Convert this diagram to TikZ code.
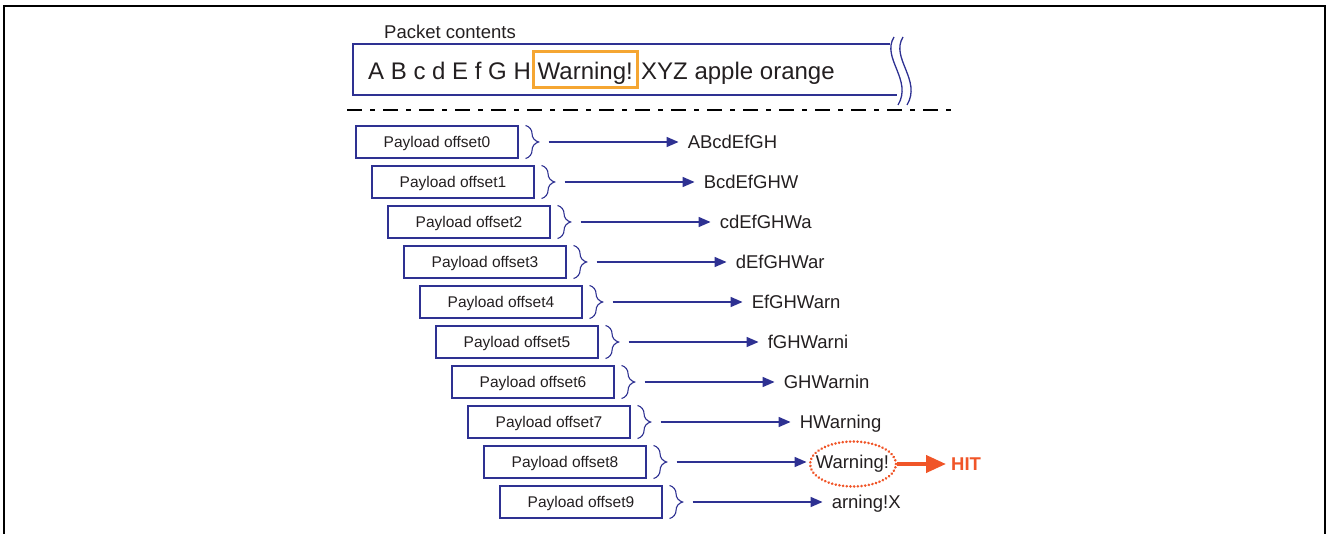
\documentclass[tikz,border=0pt]{standalone}
\usepackage{fontspec}
\setmainfont{Liberation Sans}
\usetikzlibrary{arrows.meta,decorations.pathreplacing,shapes.geometric}
\definecolor{navy}{RGB}{46,49,146}
\definecolor{warnbox}{RGB}{245,166,50}
\definecolor{hitred}{RGB}{240,85,40}
\definecolor{ink}{RGB}{35,31,32}
\tikzset{
  frame/.style={line width=2pt, black},
  pbox/.style={draw=navy, line width=1.1pt, minimum width=162pt, minimum height=32pt, inner sep=0pt,
    font=\fontsize{15.5}{16}\selectfont, text=ink, text height=14.6pt, text depth=3.5pt},
  lbl/.style={inner sep=0pt, anchor=west, font=\fontsize{18.5}{19}\selectfont, text=ink, text height=17.3pt, text depth=4pt},
  bracestyle/.style={draw=navy, line width=1.1pt, decorate, decoration={brace, amplitude=13pt}},
  arr/.style={draw=navy, line width=1.5pt, -{Triangle[length=12pt,width=10pt]}, shorten >=9pt},
  hitarr/.style={draw=hitred, line width=4pt, -{Triangle[length=20pt,width=17pt]}},
  wave/.style={draw=navy, line width=1.3pt},
}
\begin{document}
\begin{tikzpicture}[x=1pt,y=-1pt]
\useasboundingbox (0,0) rectangle (1329,534);
% outer frame
\draw[frame] (4,536) -- (4,6) -- (1325,6) -- (1325,536);
% packet contents
\node[anchor=base west, inner sep=0pt, font=\fontsize{18.5}{19}\selectfont, text=ink] (ptitle) at (384,38.5) {Packet contents};
\draw[navy, line width=1.2pt] (890,44) -- (353,44) -- (353,95) -- (897,95);
\draw[wave] (894,37) .. controls (881,58) and (913,80) .. (898,105);
\draw[wave] (903,37) .. controls (890,58) and (922,80) .. (907,105);
\node[anchor=base west, inner sep=0pt, font=\fontsize{24}{25}\selectfont, text=ink] (t1) at (368,80) {A B c d E f G H};
\node[anchor=base west, inner sep=0pt, font=\fontsize{24}{25}\selectfont, text=ink] (tw) at (537.5,80) {Warning!};
\draw[warnbox, line width=3pt] (533,52) rectangle (637,88);
\node[anchor=base west, inner sep=0pt, font=\fontsize{24}{25}\selectfont, text=ink] (t3) at (641,80) {XYZ apple orange};
% dash-dot separator
\coordinate (d1) at (347,110);
\coordinate (d2) at (952,110);
\draw[black, line width=2.6pt, dash pattern=on 15pt off 8pt on 5pt off 8pt] (d1) -- (d2);
% payload rows
\foreach \i/\t in {0/ABcdEfGH,1/BcdEfGHW,2/cdEfGHWa,3/dEfGHWar,4/EfGHWarn,5/fGHWarni,6/GHWarnin,7/HWarning,8/Warning!,9/arning!X}{
  \node[pbox] (b\i) at ({437+16*\i},{142+40*\i}) {Payload offset\i};
  \draw[bracestyle] ([xshift=7pt]b\i.north east) -- ([xshift=7pt]b\i.south east);
  \coordinate (s\i) at ([xshift=30pt]b\i.east);
  \node[lbl] (l\i) at ([xshift=169pt]b\i.east) {\t};
  \draw[arr] (s\i) -- (l\i);
}
% hit
\node[draw=hitred, ellipse, line width=2.8pt, dash pattern=on 0.1pt off 3.6pt, line cap=round, minimum width=86pt, minimum height=45pt, inner sep=0pt] (e8) at (853,464) {};
\node[anchor=west, inner sep=0pt, text=hitred, font=\bfseries\fontsize{18.5}{19}\selectfont] (hit) at (951,464) {HIT};
\draw[hitarr, shorten >=5pt] (e8.east) -- (hit.west);
\end{tikzpicture}
\end{document}
